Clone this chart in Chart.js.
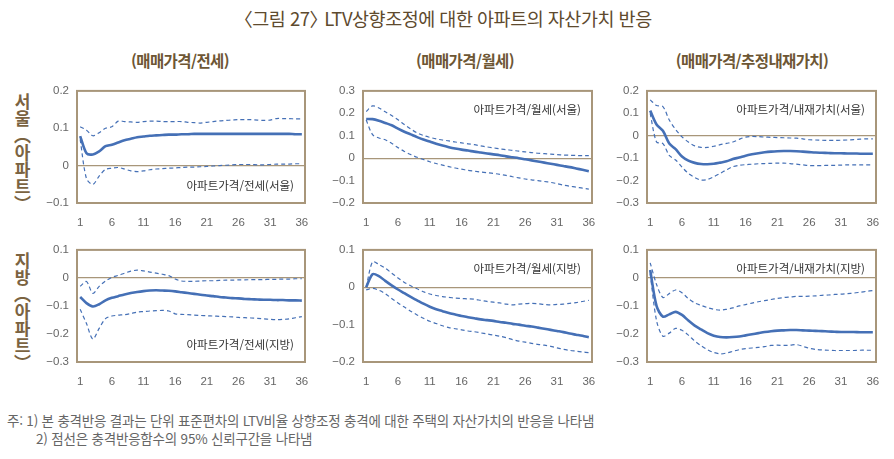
<!DOCTYPE html>
<html lang="ko">
<head>
  <meta charset="UTF-8">
  <title>그림 27</title>
  <style>
    body {
      margin: 0;
      padding: 0;
      background: #fff;
      font-family: 'Noto Sans CJK KR', 'Noto Sans', sans-serif;
    }
    #page {
      position: relative;
      width: 894px;
      height: 459px;
      overflow: hidden;
    }
    .title {
      position: absolute;
      left: 0;
      width: 894px;
      top: 5px;
      text-align: center;
      font-size: 18.5px;
      color: #5e4a2e;
      letter-spacing: -0.5px;
    }
    .title .lb { margin-left: -8px; }
    .title .rb { margin-right: -8px; }
    .sub {
      position: absolute;
      top: 49px;
      font-size: 15.5px;
      font-weight: bold;
      color: #6d5634;
      letter-spacing: -0.6px;
      transform: translateX(-50%);
      white-space: nowrap;
    }
    .row {
      position: absolute;
      left: 12px;
      writing-mode: vertical-rl;
      font-size: 17px;
      font-weight: bold;
      color: #7b6341;
      line-height: 20px;
    }
    .box { position: absolute; }
    .note {
      position: absolute;
      font-size: 13.5px;
      color: #666;
      letter-spacing: -0.2px;
      white-space: nowrap;
    }
  </style>
</head>
<body>
<div id="page">
  <div class="title"><span class="lb">〈</span>그림 27<span class="rb">〉</span> LTV상향조정에 대한 아파트의 자산가치 반응</div>
  <div class="sub" style="left:180px">(매매가격/전세)</div>
  <div class="sub" style="left:465px">(매매가격/월세)</div>
  <div class="sub" style="left:752px">(매매가격/추정내재가치)</div>
  <div class="row" style="top:93px">서울（아파트）</div>
  <div class="row" style="top:252px">지방（아파트）</div>

  <div class="box" id="b1"><canvas id="c1"></canvas></div>
  <div class="box" id="b2"><canvas id="c2"></canvas></div>
  <div class="box" id="b3"><canvas id="c3"></canvas></div>
  <div class="box" id="b4"><canvas id="c4"></canvas></div>
  <div class="box" id="b5"><canvas id="c5"></canvas></div>
  <div class="box" id="b6"><canvas id="c6"></canvas></div>

  <div class="note" style="left:7px; top:410px">주: 1) 본 충격반응 결과는 단위 표준편차의 LTV비율 상향조정 충격에 대한 주택의 자산가치의 반응을 나타냄</div>
  <div class="note" style="left:36px; top:428px">2) 점선은 충격반응함수의 95% 신뢰구간을 나타냄</div>
</div>

<script src="https://cdn.jsdelivr.net/npm/chart.js"></script>
<script>
  const months = [];
  for (let m = 1; m <= 36; m++) months.push(m);
  const xTicks = [1, 6, 11, 16, 21, 26, 31, 36];

  // 서울 - 매매가격/전세
  const seoulJeonseMain = [0.079, 0.033, 0.030, 0.038, 0.052, 0.056, 0.062, 0.068, 0.072, 0.076, 0.078, 0.080, 0.081, 0.082, 0.083, 0.083, 0.084, 0.084, 0.085, 0.085, 0.085, 0.085, 0.085, 0.085, 0.085, 0.085, 0.085, 0.085, 0.085, 0.085, 0.085, 0.085, 0.085, 0.085, 0.084, 0.084];
  const seoulJeonseUpper = [0.104, 0.095, 0.080, 0.088, 0.100, 0.104, 0.119, 0.118, 0.117, 0.116, 0.118, 0.119, 0.119, 0.118, 0.118, 0.118, 0.118, 0.116, 0.115, 0.114, 0.116, 0.118, 0.120, 0.121, 0.122, 0.123, 0.123, 0.123, 0.122, 0.121, 0.122, 0.126, 0.126, 0.126, 0.125, 0.125];
  const seoulJeonseLower = [0.070, -0.035, -0.050, -0.028, -0.010, -0.007, -0.005, -0.009, -0.014, -0.016, -0.014, -0.011, -0.009, -0.008, -0.007, -0.006, -0.005, -0.004, -0.004, -0.003, -0.002, -0.001, 0.000, 0.001, 0.002, 0.003, 0.003, 0.003, 0.002, 0.002, 0.003, 0.004, 0.004, 0.004, 0.005, 0.005];

  // 서울 - 매매가격/월세
  const seoulWolseMain = [0.175, 0.174, 0.167, 0.157, 0.147, 0.132, 0.118, 0.106, 0.094, 0.083, 0.074, 0.064, 0.056, 0.049, 0.043, 0.038, 0.034, 0.029, 0.025, 0.021, 0.017, 0.013, 0.008, 0.004, 0.000, -0.005, -0.010, -0.015, -0.020, -0.025, -0.030, -0.035, -0.040, -0.046, -0.052, -0.058];
  const seoulWolseUpper = [0.208, 0.233, 0.224, 0.207, 0.190, 0.171, 0.150, 0.130, 0.113, 0.101, 0.093, 0.086, 0.081, 0.077, 0.072, 0.068, 0.064, 0.060, 0.055, 0.050, 0.046, 0.042, 0.038, 0.035, 0.031, 0.028, 0.025, 0.022, 0.020, 0.018, 0.016, 0.014, 0.013, 0.012, 0.011, 0.011];
  const seoulWolseLower = [0.170, 0.105, 0.090, 0.082, 0.066, 0.047, 0.030, 0.016, 0.004, -0.006, -0.016, -0.024, -0.031, -0.038, -0.044, -0.049, -0.054, -0.058, -0.062, -0.065, -0.068, -0.072, -0.077, -0.083, -0.088, -0.093, -0.097, -0.100, -0.104, -0.108, -0.114, -0.120, -0.125, -0.129, -0.134, -0.138];

  // 서울 - 매매가격/추정내재가치
  const seoulValueMain = [0.112, 0.050, 0.022, -0.035, -0.060, -0.093, -0.111, -0.121, -0.126, -0.127, -0.125, -0.120, -0.114, -0.104, -0.097, -0.089, -0.083, -0.078, -0.074, -0.071, -0.069, -0.068, -0.068, -0.069, -0.071, -0.073, -0.075, -0.076, -0.077, -0.078, -0.078, -0.079, -0.079, -0.080, -0.080, -0.080];
  const seoulValueUpper = [0.160, 0.135, 0.130, 0.070, 0.028, -0.005, -0.028, -0.045, -0.052, -0.052, -0.047, -0.040, -0.034, -0.028, -0.016, -0.006, -0.003, -0.004, -0.006, -0.007, -0.008, -0.009, -0.010, -0.011, -0.014, -0.018, -0.019, -0.020, -0.021, -0.021, -0.020, -0.019, -0.017, -0.015, -0.014, -0.014];
  const seoulValueLower = [0.100, -0.028, -0.035, -0.088, -0.108, -0.140, -0.168, -0.186, -0.198, -0.195, -0.183, -0.168, -0.152, -0.138, -0.132, -0.129, -0.127, -0.125, -0.124, -0.123, -0.122, -0.122, -0.124, -0.127, -0.130, -0.133, -0.133, -0.133, -0.132, -0.132, -0.131, -0.130, -0.130, -0.130, -0.130, -0.130];

  // 지방 - 매매가격/전세
  const localJeonseMain = [-0.068, -0.090, -0.102, -0.094, -0.080, -0.071, -0.065, -0.059, -0.054, -0.050, -0.047, -0.045, -0.044, -0.045, -0.046, -0.048, -0.051, -0.054, -0.057, -0.060, -0.063, -0.065, -0.068, -0.070, -0.072, -0.073, -0.075, -0.076, -0.077, -0.078, -0.078, -0.079, -0.079, -0.080, -0.080, -0.081];
  const localJeonseUpper = [-0.030, -0.013, -0.055, -0.030, -0.011, 0.002, 0.009, 0.017, 0.024, 0.028, 0.025, 0.021, 0.017, 0.013, 0.008, -0.004, -0.011, -0.012, -0.012, -0.011, -0.010, -0.010, -0.009, -0.008, -0.008, -0.007, -0.007, -0.006, -0.006, -0.006, -0.005, -0.005, -0.004, -0.004, -0.003, -0.003];
  const localJeonseLower = [-0.112, -0.163, -0.218, -0.180, -0.145, -0.136, -0.133, -0.131, -0.127, -0.122, -0.120, -0.118, -0.117, -0.116, -0.118, -0.128, -0.130, -0.131, -0.133, -0.134, -0.135, -0.136, -0.137, -0.138, -0.139, -0.141, -0.142, -0.143, -0.144, -0.146, -0.148, -0.149, -0.148, -0.146, -0.142, -0.138];

  // 지방 - 매매가격/월세
  const localWolseMain = [0.000, 0.035, 0.030, 0.017, 0.005, -0.006, -0.016, -0.026, -0.035, -0.044, -0.052, -0.059, -0.064, -0.069, -0.073, -0.077, -0.080, -0.083, -0.086, -0.088, -0.090, -0.093, -0.095, -0.098, -0.100, -0.103, -0.105, -0.108, -0.111, -0.114, -0.117, -0.120, -0.124, -0.127, -0.130, -0.134];
  const localWolseUpper = [0.000, 0.068, 0.061, 0.051, 0.038, 0.025, 0.013, 0.004, -0.004, -0.012, -0.018, -0.022, -0.025, -0.027, -0.029, -0.030, -0.031, -0.032, -0.035, -0.038, -0.040, -0.042, -0.045, -0.047, -0.045, -0.044, -0.043, -0.044, -0.046, -0.047, -0.046, -0.045, -0.043, -0.041, -0.038, -0.035];
  const localWolseLower = [-0.007, -0.003, -0.008, -0.017, -0.030, -0.042, -0.053, -0.064, -0.074, -0.083, -0.091, -0.097, -0.103, -0.108, -0.111, -0.114, -0.117, -0.119, -0.122, -0.125, -0.128, -0.131, -0.135, -0.140, -0.144, -0.147, -0.150, -0.153, -0.155, -0.158, -0.162, -0.166, -0.169, -0.171, -0.173, -0.175];

  // 지방 - 매매가격/추정내재가치
  const localValueMain = [0.028, -0.100, -0.138, -0.130, -0.121, -0.132, -0.152, -0.170, -0.184, -0.197, -0.206, -0.211, -0.212, -0.211, -0.209, -0.205, -0.201, -0.197, -0.193, -0.190, -0.188, -0.187, -0.186, -0.186, -0.187, -0.188, -0.189, -0.190, -0.191, -0.192, -0.193, -0.193, -0.193, -0.194, -0.194, -0.194];
  const localValueUpper = [0.054, -0.023, -0.070, -0.056, -0.043, -0.053, -0.074, -0.089, -0.098, -0.106, -0.112, -0.115, -0.112, -0.107, -0.100, -0.095, -0.090, -0.085, -0.081, -0.077, -0.073, -0.070, -0.068, -0.066, -0.066, -0.065, -0.064, -0.062, -0.061, -0.059, -0.058, -0.056, -0.054, -0.051, -0.048, -0.045];
  const localValueLower = [0.015, -0.152, -0.208, -0.197, -0.180, -0.187, -0.204, -0.225, -0.242, -0.256, -0.266, -0.271, -0.268, -0.262, -0.256, -0.252, -0.250, -0.248, -0.245, -0.241, -0.240, -0.241, -0.240, -0.238, -0.244, -0.251, -0.255, -0.257, -0.258, -0.259, -0.259, -0.259, -0.259, -0.258, -0.258, -0.258];

  const frameColor = '#a8967a';
  const lineBlue = '#4570b6';
  const Y_W = 50, X_H = 24, PAD_T = 8, PAD_R = 12;

  // draws the box around the plot and the series name inside it
  const framePlugin = {
    id: 'frame',
    afterDatasetsDraw(chart, args, opts) {
      const a = chart.chartArea;
      const ctx = chart.ctx;
      ctx.save();
      ctx.strokeStyle = frameColor;
      ctx.lineWidth = 2;
      ctx.strokeRect(a.left, a.top, a.right - a.left, a.bottom - a.top);
      ctx.fillStyle = '#333';
      ctx.font = '11.5px "Noto Sans CJK KR"';
      ctx.textAlign = 'right';
      ctx.textBaseline = 'middle';
      const y = opts.pos === 'bottom' ? a.bottom - 17 : a.top + 19;
      ctx.fillText(opts.text, a.right - 11, y);
      ctx.restore();
    }
  };

  function fmt(v) {
    if (Math.abs(v) < 1e-9) return '0';
    return (v < 0 ? '\u2212' : '') + Math.abs(v).toFixed(1);
  }

  function toXY(arr) {
    return arr.map((v, i) => ({ x: months[i], y: v }));
  }

  function makeChart(n, L, T, R, B, main, upper, lower, yMin, yMax, text, pos) {
    const box = document.getElementById('b' + n);
    box.style.left = (L - Y_W) + 'px';
    box.style.top = (T - PAD_T) + 'px';
    box.style.width = (R - L + Y_W + PAD_R) + 'px';
    box.style.height = (B - T + PAD_T + X_H) + 'px';

    const dashed = {
      borderColor: lineBlue,
      borderWidth: 1.2,
      borderDash: [4, 3],
      pointRadius: 0,
      tension: 0.3,
      fill: false
    };

    new Chart(document.getElementById('c' + n), {
      type: 'line',
      data: {
        datasets: [
          Object.assign({ data: toXY(upper) }, dashed),
          Object.assign({ data: toXY(lower) }, dashed),
          {
            data: toXY(main),
            borderColor: lineBlue,
            borderWidth: 2.6,
            pointRadius: 0,
            tension: 0.3,
            fill: false
          }
        ]
      },
      options: {
        responsive: true,
        maintainAspectRatio: false,
        animation: false,
        layout: { padding: { top: PAD_T, right: PAD_R, left: 0, bottom: 0 } },
        plugins: {
          legend: { display: false },
          tooltip: { enabled: false },
          frame: { text: text, pos: pos }
        },
        scales: {
          x: {
            type: 'linear',
            min: 0.5,
            max: 36.5,
            afterBuildTicks: s => { s.ticks = xTicks.map(v => ({ value: v })); },
            afterFit: s => { s.height = X_H; },
            grid: { display: false },
            border: { display: false },
            ticks: {
              color: '#666',
              font: { size: 11.5, family: 'Liberation Sans' },
              padding: 5,
              maxRotation: 0,
              autoSkip: false,
              callback: v => String(v)
            }
          },
          y: {
            min: yMin,
            max: yMax,
            afterFit: s => { s.width = Y_W; },
            grid: {
              drawTicks: false,
              lineWidth: 1.2,
              color: c => Math.abs(c.tick.value) < 1e-9 ? frameColor : 'rgba(0,0,0,0)'
            },
            border: { display: false },
            ticks: {
              stepSize: 0.1,
              color: '#666',
              font: { size: 11.5, family: 'Liberation Sans' },
              padding: 8,
              callback: v => fmt(v)
            }
          }
        }
      },
      plugins: [framePlugin]
    });
  }

  makeChart(1, 77, 84, 305, 203, seoulJeonseMain, seoulJeonseUpper, seoulJeonseLower, -0.1, 0.2, '아파트가격/전세(서울)', 'bottom');
  makeChart(2, 363, 84, 592, 203, seoulWolseMain, seoulWolseUpper, seoulWolseLower, -0.2, 0.3, '아파트가격/월세(서울)', 'top');
  makeChart(3, 647, 84, 876, 203, seoulValueMain, seoulValueUpper, seoulValueLower, -0.3, 0.2, '아파트가격/내재가치(서울)', 'top');
  makeChart(4, 77, 243, 305, 362, localJeonseMain, localJeonseUpper, localJeonseLower, -0.3, 0.1, '아파트가격/전세(지방)', 'bottom');
  makeChart(5, 363, 243, 592, 362, localWolseMain, localWolseUpper, localWolseLower, -0.2, 0.1, '아파트가격/월세(지방)', 'top');
  makeChart(6, 647, 243, 876, 362, localValueMain, localValueUpper, localValueLower, -0.3, 0.1, '아파트가격/내재가치(지방)', 'top');
</script>
</body>
</html>
